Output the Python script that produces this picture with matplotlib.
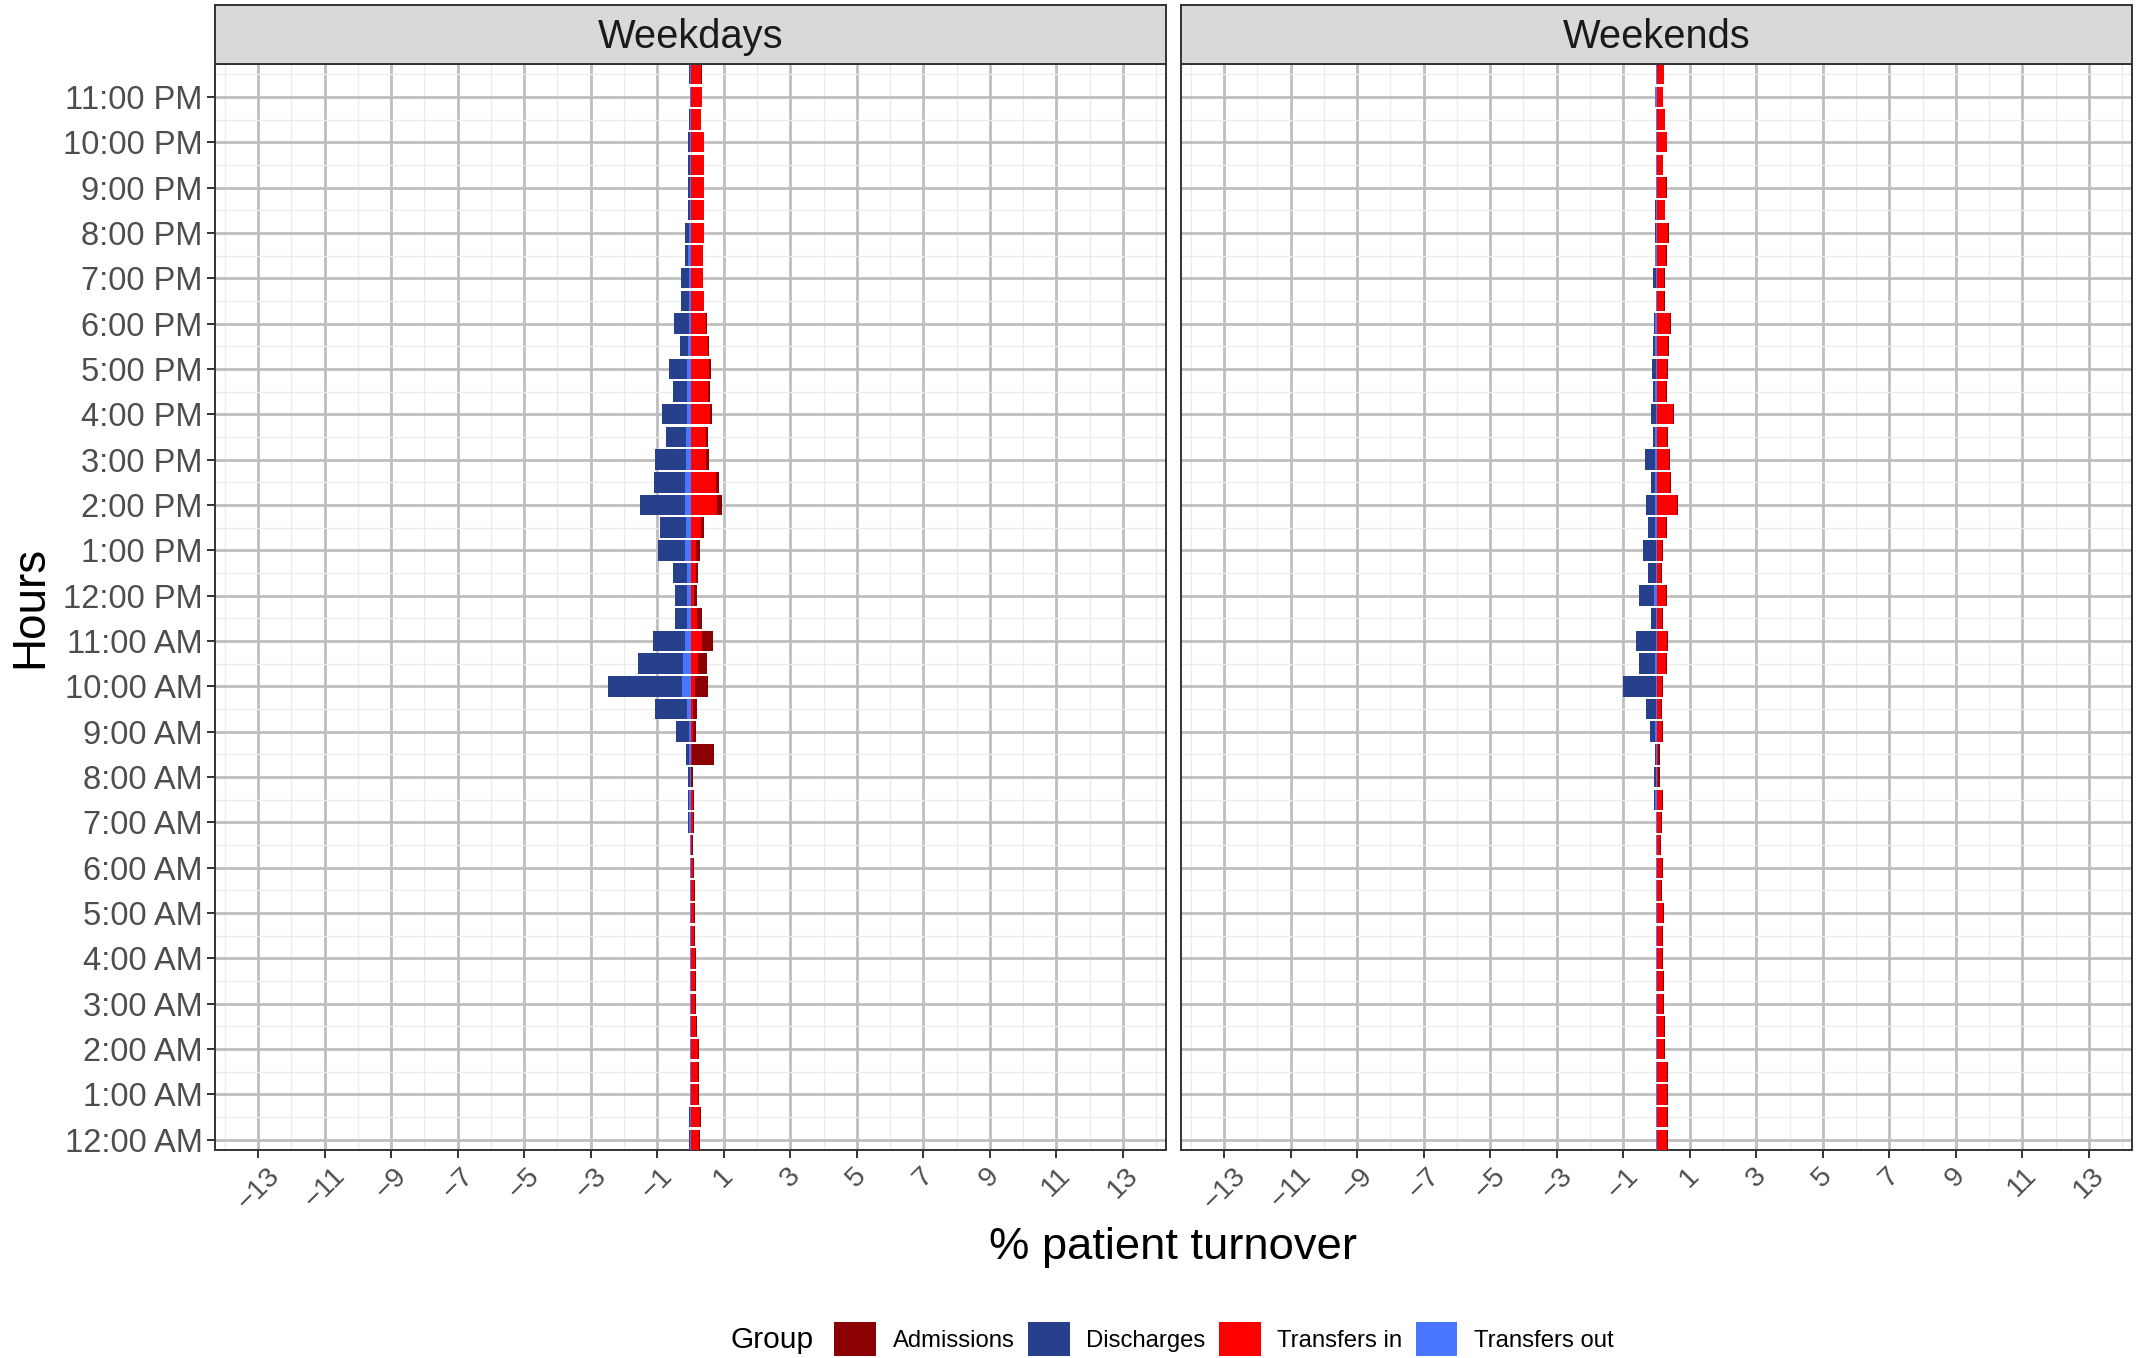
import numpy as np
import matplotlib
matplotlib.use("Agg")
import matplotlib.pyplot as plt
from matplotlib.patches import Patch

plt.rcParams['font.family'] = ['Liberation Sans', 'DejaVu Sans']

# half-hour slots, 12:00 AM .. 11:30 PM
hours = np.arange(0, 24, 0.5)
hour_labels = ['12:00 AM'] + ['%d:00 AM' % h for h in range(1, 12)] + \
              ['12:00 PM'] + ['%d:00 PM' % h for h in range(1, 12)]
x_breaks = list(range(-13, 14, 2))
panels = ['Weekdays', 'Weekends']

# % patient turnover per half-hour slot (chronological)
wd_transfers_in = [.27, .30, .24, .24, .24, .18, .15, .15, .15, .12, .12, .12, .09, .06, .09, .09,
                   .03, .06, .09, .09, .15, .24, .36, .21, .12, .18, .18, .33, .81, .78, .48, .48,
                   .60, .54, .57, .53, .47, .40, .37, .37, .40, .40, .40, .40, .40, .31, .35, .33]
wd_admissions = [.03, .03, .03, .03, .03, .03, .03, .03, .03, .03, .03, .03, .03, .03, .03, .03,
                 .06, .66, .09, .12, .39, .27, .33, .15, .09, .06, .12, .09, .15, .09, .09, .06,
                 .06, .06, .06, .03, .03, .01, .01, .01, .01, .01, .01, .01, .01, .01, .00, .02]
wd_discharges = [.03, .03, 0, 0, 0, 0, 0, 0, 0, 0, 0, 0, 0, 0, .03, .03,
                 .06, .09, .39, .96, 2.22, 1.35, .96, .36, .36, .42, .81, .78, 1.35, .93, .93, .60,
                 .75, .42, .54, .24, .45, .24, .24, .09, .12, .06, .06, .06, .06, .03, .00, .03]
wd_transfers_out = [.03, .03, .03, .03, .03, .03, .03, .03, .03, .03, .03, .03, .03, .03, .06, .06,
                    .03, .06, .06, .12, .27, .24, .18, .12, .12, .12, .18, .15, .18, .18, .15, .15,
                    .12, .12, .12, .09, .06, .06, .06, .09, .06, .03, .03, .03, .03, .03, .03, .03]

we_transfers_in = [.31, .31, .31, .31, .22, .22, .19, .19, .16, .16, .19, .13, .16, .10, .13, .16,
                   .04, .04, .16, .13, .16, .28, .31, .16, .28, .13, .16, .28, .61, .40, .37, .32,
                   .49, .29, .32, .34, .40, .23, .23, .29, .35, .25, .29, .20, .31, .25, .19, .22]
we_admissions = [.03, .03, .03, .03, .03, .03, .03, .03, .03, .03, .03, .03, .03, .03, .03, .03,
                 .06, .06, .03, .03, .03, .03, .03, .03, .03, .03, .03, .03, .03, .03, .03, .02,
                 .03, .02, .02, .03, .03, .02, .02, .02, .02, .02, .02, .01, .02, .02, .01, .02]
we_discharges = [0, 0, 0, 0, 0, 0, 0, 0, 0, 0, 0, 0, 0, 0, 0, .03,
                 .06, .05, .15, .32, .99, .48, .62, .15, .45, .24, .39, .21, .27, .12, .30, .06,
                 .15, .06, .12, .06, .04, 0, .09, 0, .02, .03, 0, 0, 0, 0, 0, .01]
we_transfers_out = [.02, .02, .02, .02, .02, .02, .02, .02, .02, .02, .02, .02, .02, .02, .02, .05,
                    .02, .01, .05, .01, .02, .05, .01, .02, .08, .02, .02, .05, .05, .05, .05, .05,
                    .02, .05, .02, .05, .04, .02, .02, .05, .03, .02, .01, .02, .01, .02, .04, .01]

colors = {'Admissions': '#8B0000', 'Discharges': '#27408B',
          'Transfers in': '#FF0000', 'Transfers out': '#4876FF'}

data = {
    'Weekdays': (wd_transfers_in, wd_admissions, wd_discharges, wd_transfers_out),
    'Weekends': (we_transfers_in, we_admissions, we_discharges, we_transfers_out),
}

W, H = 2144, 1358
fig = plt.figure(figsize=(W / 100, H / 100), dpi=100)

panel_left = [215, 1181]
panel_w = 951
p_top, p_bot = 64, 1150
strip_top = 5

for i, name in enumerate(panels):
    ti, adm, dis, to = [np.array(v) for v in data[name]]
    ax = fig.add_axes([panel_left[i] / W, 1 - p_bot / H, panel_w / W, (p_bot - p_top) / H])
    ax.set_facecolor('white')
    bh = 0.45
    ax.barh(hours, ti, height=bh, left=0, color=colors['Transfers in'], linewidth=0, zorder=3)
    ax.barh(hours, adm, height=bh, left=ti, color=colors['Admissions'], linewidth=0, zorder=3)
    ax.barh(hours, -to, height=bh, left=0, color=colors['Transfers out'], linewidth=0, zorder=3)
    ax.barh(hours, -dis, height=bh, left=-to, color=colors['Discharges'], linewidth=0, zorder=3)

    ax.set_xlim(-14.3, 14.3)
    ax.set_ylim(-0.225, 23.725)
    ax.set_xticks(x_breaks)
    ax.set_xticklabels([str(b).replace('-', '\u2212') for b in x_breaks], rotation=45,
                       ha='center', va='top', fontsize=20.5, color='#4D4D4D')
    ax.set_xticks(np.arange(-14, 15, 2), minor=True)
    ax.set_yticks(np.arange(0, 24))
    ax.set_yticks(np.arange(0.5, 24, 1), minor=True)
    ax.tick_params(which='major', length=6, width=1.4, color='#333333', pad=3)
    if i == 0:
        ax.set_yticklabels(hour_labels, fontsize=23.5, color='#4D4D4D')
    else:
        ax.set_yticklabels([])
        ax.tick_params(axis='y', which='major', length=0)
    ax.tick_params(which='minor', length=0)
    ax.grid(which='major', color='#BEBEBE', linewidth=2.0, zorder=0)
    ax.grid(which='minor', color='#EBEBEB', linewidth=1.0, zorder=0)
    ax.set_axisbelow(True)
    for s in ax.spines.values():
        s.set_color('#333333')
        s.set_linewidth(1.4)

    # facet strip
    sax = fig.add_axes([panel_left[i] / W, 1 - p_top / H, panel_w / W, (p_top - strip_top) / H])
    sax.set_facecolor('#D9D9D9')
    sax.set_xticks([])
    sax.set_yticks([])
    for s in sax.spines.values():
        s.set_color('#333333')
        s.set_linewidth(1.4)
    sax.text(0.5, 0.45, name, ha='center', va='center', fontsize=28.7, color='#1A1A1A',
             transform=sax.transAxes)

fig.text(30 / W, 1 - 607 / H, 'Hours', rotation=90, ha='center', va='center', fontsize=33)
fig.text(1173 / W, 1 - 1248 / H, '% patient turnover', ha='center', va='center', fontsize=32.7)

groups = ['Admissions', 'Discharges', 'Transfers in', 'Transfers out']
handles = [Patch(facecolor=colors[g], edgecolor='none') for g in groups]
fig.text(772 / W, 1 - 1340 / H, 'Group', ha='center', va='center', fontsize=21.5)
fig.legend(handles, groups, loc='center', bbox_to_anchor=(1224 / W, 1 - 1339 / H), ncol=4,
           frameon=False, fontsize=17.2, handlelength=1.75, handleheight=1.75,
           handletextpad=0.7, columnspacing=0.55, borderpad=0)

fig.savefig('out.png', dpi=100)
